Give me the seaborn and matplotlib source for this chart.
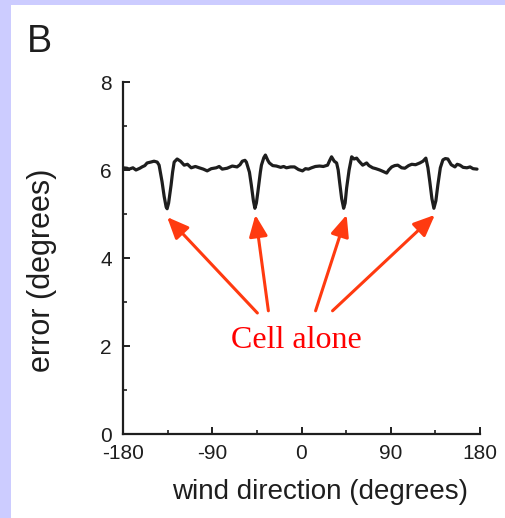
import matplotlib
matplotlib.use("Agg")
import matplotlib.pyplot as plt
import matplotlib.patches as mpatches
from matplotlib.ticker import MultipleLocator
import seaborn as sns
import pandas as pd

# ---- data ----
wind_direction = [
    -180, -176, -173.9, -170, -166.9, -163, -160.8, -158, -155.7, -152, -148.7,
    -145.5, -143.6, -140.6, -138.5, -136.5, -135.5, -134, -131.5, -130, -128.4,
    -125.4, -122, -118.3, -115, -111.2, -107, -103.1, -99, -95.1, -91, -86.0,
    -83, -79.9, -75, -69.8, -65, -62, -59.7, -57, -55.6, -52.5, -50.6, -48.5,
    -47.0, -45.5, -44.0, -41.5, -40.4, -38, -36.4, -34, -32.4, -29, -25.3, -21,
    -18, -15.2, -11, -7.1, -3, 1.0, 4, 7, 10.1, 14, 18.2, 22, 26.3, 28.5, 30.3,
    33, 35.4, 37, 38.4, 40.5, 42.5, 44, 45.5, 48, 50.6, 53, 55.6, 58, 61.7, 65.7,
    68, 71.8, 75, 78.9, 82, 85.9, 88, 91.0, 94, 97.1, 101, 104.2, 108, 111.2,
    115, 119.3, 122.5, 125.4, 127.5, 129.4, 131.5, 133.5, 135.5, 137.5, 140,
    142.6, 145, 147.6, 151, 154.7, 157, 159.8, 163, 166.8, 170, 173, 177,
]
error_deg = [
    6.05, 6.04, 6.02, 6.05, 6.00, 6.04, 6.07, 6.10, 6.16, 6.18, 6.20,
    6.18, 6.11, 5.73, 5.40, 5.16, 5.12, 5.25, 5.66, 5.95, 6.18,
    6.25, 6.20, 6.11, 6.13, 6.05, 6.08, 6.05, 6.02, 5.98, 6.03, 6.05,
    6.08, 6.02, 6.04, 6.09, 6.07, 6.12, 6.20, 6.22, 6.18, 5.95, 5.66, 5.30,
    5.13, 5.25, 5.50, 5.95, 6.11, 6.28, 6.34, 6.22, 6.16, 6.10, 6.09, 6.06,
    6.08, 6.05, 6.07, 6.07, 6.01, 5.98, 6.03, 6.02, 6.05, 6.08, 6.09, 6.08, 6.11, 6.22, 6.30,
    6.20, 6.16, 6.00, 5.73, 5.35, 5.13, 5.25, 5.59, 6.00, 6.30, 6.25, 6.27, 6.20, 6.11, 6.16,
    6.10, 6.05, 6.03, 6.00, 5.97, 5.93, 6.00, 6.07, 6.10, 6.11, 6.05, 6.04, 6.10, 6.13,
    6.12, 6.16, 6.20, 6.27, 6.05, 5.73, 5.35, 5.13, 5.30, 5.66, 6.05,
    6.23, 6.26, 6.25, 6.12, 6.07, 6.13, 6.11, 6.06, 6.05, 6.07, 6.03, 6.02,
]
x_ticks = [-180, -90, 0, 90, 180]
y_ticks = [0, 2, 4, 6, 8]
annotation_text = "Cell alone"
panel_letter = "B"

df = pd.DataFrame({"wind": wind_direction, "error": error_deg})

sns.set_style("ticks")
plt.rcParams["font.family"] = ["Liberation Sans", "DejaVu Sans"]
plt.rcParams["axes.unicode_minus"] = False

fig = plt.figure(figsize=(5.06, 5.18), dpi=100, facecolor="white")
# lavender slide border (top and left)
fig.patches.append(mpatches.Rectangle((0, 0), 11 / 506, 1, transform=fig.transFigure,
                                      facecolor="#ccccff", edgecolor="none", zorder=-10))
fig.patches.append(mpatches.Rectangle((0, 1 - 5 / 518), 1, 5 / 518, transform=fig.transFigure,
                                      facecolor="#ccccff", edgecolor="none", zorder=-10))

ax = fig.add_axes([123 / 506, 84 / 518, 357 / 506, 352 / 518])
ax.set_facecolor("none")

sns.lineplot(data=df, x="wind", y="error", ax=ax, color="#1e1e1e", lw=2.3,
             sort=False, estimator=None)

ax.set_xlim(-180, 180)
ax.set_ylim(0, 8)
ax.set_xticks(x_ticks)
ax.set_yticks(y_ticks)
ax.xaxis.set_minor_locator(MultipleLocator(45))
ax.yaxis.set_minor_locator(MultipleLocator(1))
ax.tick_params(axis="both", which="major", direction="in", length=5, width=1.4,
               labelsize=15, color="#1e1e1e", labelcolor="#1e1e1e")
ax.tick_params(axis="x", which="major", pad=7)
ax.tick_params(axis="y", which="major", pad=8)
ax.tick_params(axis="both", which="minor", direction="in", length=3, width=1.2,
               color="#1e1e1e")
for s in ["top", "right"]:
    ax.spines[s].set_visible(False)
for s in ["left", "bottom"]:
    ax.spines[s].set_linewidth(1.6)
    ax.spines[s].set_color("#1e1e1e")

ax.set_xlabel("wind direction (degrees)", fontsize=20, color="#1e1e1e")
ax.set_ylabel("error (degrees)", fontsize=22, color="#1e1e1e")
ax.xaxis.set_label_coords(0.553, -0.128)
ax.yaxis.set_label_coords(-0.185, 0.465)

fig.text(27 / 506, 1 - 52 / 518, panel_letter, fontsize=27, color="#1e1e1e",
         ha="left", va="baseline")

arrow_color = "#ff3a10"
arrows = [((-135.5, 4.93), (-44.5, 2.75)),
          ((-46.5, 4.98), (-33.4, 2.80)),
          ((45.5, 4.98), (14.2, 2.80)),
          ((134.5, 4.98), (31.3, 2.80))]
for head, tail in arrows:
    ax.annotate("", xy=head, xytext=tail,
                arrowprops=dict(arrowstyle="-|>,head_length=0.65,head_width=0.28",
                                color=arrow_color, lw=2.2, shrinkA=0, shrinkB=0,
                                mutation_scale=20))

ax.text(-5, 1.95, annotation_text, fontsize=23, color="#ff0000",
        family=["Liberation Serif", "DejaVu Serif"], ha="center", va="baseline")

fig.savefig("out.png", dpi=100, facecolor=fig.get_facecolor())
